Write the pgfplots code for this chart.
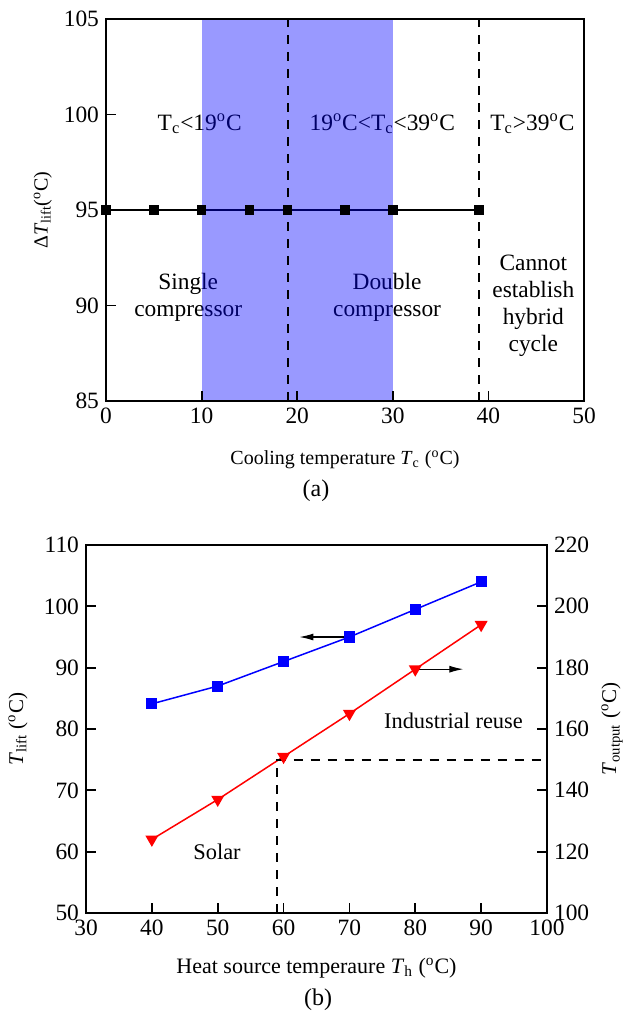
\documentclass[border=0pt]{standalone}
\usepackage{fontspec}
\setmainfont{Liberation Serif}
\usepackage{pgfplots}
\pgfplotsset{compat=1.18}
\usetikzlibrary{arrows.meta}

\newcommand{\dg}{\textsuperscript{o}C}

\pgfplotsset{
  every axis/.append style={
    scale only axis,
    axis line style={line width=1pt},
    tick align=inside,
    major tick length=5pt,
    every tick/.style={black, line width=0.9pt},
    tick label style={font=\fontsize{11.7}{14}\selectfont},
    /pgf/number format/assume math mode=true,
    label style={font=\fontsize{10}{12}\selectfont},
  },
}
\tikzset{
  anno/.style={font=\fontsize{11.7}{13.5}\selectfont, align=center},
  guide/.style={black, line width=1pt, dash pattern=on 4.5pt off 4pt},
}

\begin{document}
\begin{tikzpicture}
\path[use as bounding box] (0,0) rectangle (312pt,513pt);

% ---- panel (a)
\begin{axis}[
  at={(53pt,312.5pt)}, anchor=south west,
  width=239pt, height=191pt,
  xmin=0, xmax=50, ymin=85, ymax=105,
  xtick={0,10,...,50}, ytick={85,90,...,105},
  tick pos=left,
  axis on top,
  xlabel={Cooling temperature \textit{T}\textsubscript{c} (\dg)},
  ylabel={Δ\textit{T}\textsubscript{lift}(\dg)},
  xlabel style={at={(axis description cs:0.5,-0.154)}, anchor=center},
  ylabel style={at={(axis description cs:-0.132,0.5)}, anchor=center},
]
\addplot[black, line width=0.75pt, mark=square*, mark size=2pt]
  coordinates {(0,95) (5,95) (10,95) (15,95) (19,95) (25,95) (30,95) (39,95)};
\node[anno] at (axis cs:9.8,99.5) {T\textsubscript{c}<19\dg};
\node[anno] at (axis cs:28.9,99.5) {19\dg<T\textsubscript{c}<39\dg};
\node[anno] at (axis cs:44.6,99.5) {T\textsubscript{c}>39\dg};
\node[anno] at (axis cs:8.6,90.4) {Single\\compressor};
\node[anno] at (axis cs:29.4,90.4) {Double\\compressor};
\node[anno] at (axis cs:44.7,90.0) {Cannot\\establish\\hybrid\\cycle};
\fill[blue, fill opacity=0.4] (axis cs:10,85) rectangle (axis cs:30,105);
\draw[guide] (axis cs:19,85) -- (axis cs:19,105);
\draw[guide] (axis cs:39,85) -- (axis cs:39,105);
\end{axis}
\node[font=\fontsize{12}{14}\selectfont] at (158pt,267.5pt) {(a)};

% ---- panel (b), left axis
\begin{axis}[
  at={(43pt,56.5pt)}, anchor=south west,
  width=230.5pt, height=184pt,
  xmin=30, xmax=100, ymin=50, ymax=110,
  xtick={30,40,...,100}, ytick={50,60,...,110},
  tick pos=left,
  xlabel={Heat source temperaure \textit{T}\textsubscript{h} (\dg)},
  ylabel={\textit{T}\textsubscript{lift} (\dg)},
  xlabel style={at={(axis description cs:0.5,-0.149)}, anchor=center, font=\fontsize{11}{12}\selectfont},
  ylabel style={at={(axis description cs:-0.1475,0.5)}, anchor=center, font=\fontsize{10.5}{12}\selectfont},
]
\addplot[blue, line width=0.75pt, mark=square*, mark size=2.4pt]
  coordinates {(40,84.1) (50,87.0) (60,91.0) (70,95.0) (80,99.5) (90,104.0)};
\draw[black, line width=0.6pt, -{Latex[length=7pt,width=3.5pt]}] (axis cs:70,95) -- (axis cs:62.4,95);
\node[font=\fontsize{11.2}{13}\selectfont] at (axis cs:85.8,81.3) {Industrial reuse};
\node[font=\fontsize{11.2}{13}\selectfont] at (axis cs:49.9,60) {Solar};
\end{axis}

% ---- panel (b), right axis
\begin{axis}[
  at={(43pt,56.5pt)}, anchor=south west,
  width=230.5pt, height=184pt,
  xmin=30, xmax=100, ymin=100, ymax=220,
  ytick={100,120,...,220},
  axis x line=none, axis y line*=right,
  ytick pos=right,
  ylabel={\textit{T}\textsubscript{output} (\dg)},
  ylabel style={at={(axis description cs:1.141,0.5)}, anchor=center, font=\fontsize{10.5}{12}\selectfont},
]
\addplot[red, line width=0.75pt, mark=triangle*, mark size=3pt, mark options={rotate=180}]
  coordinates {(40,124) (50,137) (60,151) (70,165) (80,179.5) (90,194)};
\draw[black, line width=0.6pt, -{Latex[length=7pt,width=3.5pt]}] (axis cs:80,179.5) -- (axis cs:87.3,179.5);
\draw[guide] (axis cs:59,100) -- (axis cs:59,150) -- (axis cs:100,150);
\end{axis}
\node[font=\fontsize{12}{14}\selectfont] at (159pt,13pt) {(b)};
\end{tikzpicture}
\end{document}
